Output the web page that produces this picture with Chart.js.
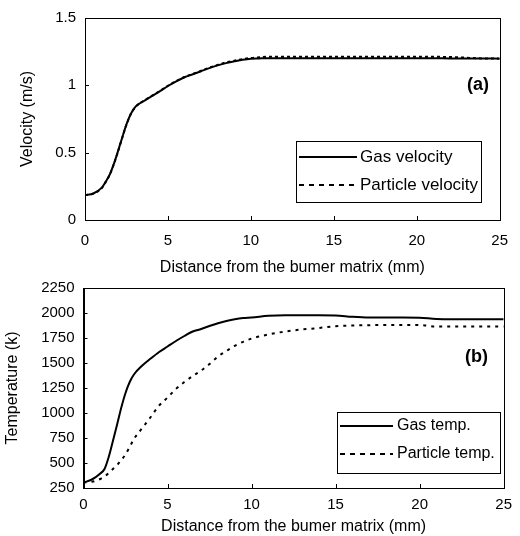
<!DOCTYPE html>
<html>
<head>
<meta charset="utf-8">
<script src="https://cdn.jsdelivr.net/npm/chart.js@4"></script>
<style>
  body { margin: 0; background: #fff; width: 520px; height: 536px; position: relative; overflow: hidden; }
  canvas { position: absolute; left: 0; }
  #velChart { top: 0; }
  #tempChart { top: 270px; }
</style>
</head>
<body>
<canvas id="velChart" width="520" height="280"></canvas>
<canvas id="tempChart" width="520" height="266"></canvas>
<script>
// velocity panel (a)
const distVel = [0, 0.5, 1, 1.25, 1.5, 1.75, 2, 2.25, 2.5, 2.75, 3, 3.25, 3.5, 4, 4.5, 5, 5.5, 6, 6.5, 7, 7.5, 8, 8.5, 9, 9.5, 10, 10.5, 11, 12, 13, 14, 15, 16, 17, 18, 19, 20, 21, 22, 23, 24, 25];
const gasVelocity = [0.185, 0.197, 0.238, 0.285, 0.34, 0.42, 0.515, 0.615, 0.71, 0.785, 0.835, 0.862, 0.88, 0.918, 0.955, 0.995, 1.03, 1.06, 1.082, 1.105, 1.128, 1.148, 1.165, 1.178, 1.19, 1.198, 1.2, 1.202, 1.202, 1.202, 1.202, 1.202, 1.202, 1.202, 1.202, 1.202, 1.202, 1.202, 1.2, 1.2, 1.2, 1.198];
const particleVelocity = [0.185, 0.196, 0.236, 0.282, 0.338, 0.418, 0.512, 0.612, 0.708, 0.783, 0.834, 0.862, 0.882, 0.92, 0.957, 0.997, 1.032, 1.062, 1.085, 1.108, 1.132, 1.152, 1.17, 1.183, 1.195, 1.203, 1.208, 1.212, 1.213, 1.213, 1.213, 1.213, 1.213, 1.213, 1.213, 1.213, 1.213, 1.212, 1.21, 1.205, 1.2, 1.2];

// temperature panel (b)
const distTemp = [0, 0.5, 1, 1.25, 1.5, 1.75, 2, 2.25, 2.5, 2.75, 3, 3.5, 4, 4.5, 5, 5.5, 6, 6.5, 7, 7.5, 8, 8.5, 9, 9.5, 10, 11, 12, 13, 14, 15, 16, 17, 18, 19, 20, 21, 22, 23, 24, 25];
const gasTemp = [305, 335, 395, 440, 560, 720, 885, 1055, 1200, 1310, 1385, 1475, 1545, 1610, 1665, 1720, 1770, 1815, 1840, 1870, 1898, 1920, 1938, 1950, 1955, 1972, 1978, 1978, 1978, 1976, 1962, 1955, 1955, 1955, 1953, 1940, 1938, 1938, 1938, 1938];
const particleTemp = [305, 312, 340, 365, 400, 440, 480, 530, 585, 660, 740, 850, 960, 1075, 1155, 1240, 1310, 1370, 1425, 1490, 1565, 1620, 1672, 1712, 1744, 1785, 1815, 1835, 1850, 1868, 1875, 1878, 1880, 1880, 1880, 1865, 1865, 1865, 1865, 1865];

const xTicks = [0, 5, 10, 15, 20, 25];
const xTitle = "Distance from the bumer matrix (mm)";

const FONT = "'Liberation Sans', Arial, sans-serif";

function points(xs, ys) {
    return xs.map((x, i) => ({ x: x, y: ys[i] }));
}

// frame, inward tick marks, boxed legend and panel letter
const framePlugin = {
    id: "frame",
    afterDraw(chart, args, opts) {
        const ctx = chart.ctx;
        const a = chart.chartArea;
        ctx.save();
        ctx.strokeStyle = "#000";
        ctx.lineWidth = 1;
        ctx.strokeRect(Math.round(a.left) + 0.5, Math.round(a.top) + 0.5, Math.round(a.right - a.left), Math.round(a.bottom - a.top));

        // inward ticks
        const xs = chart.scales.x, ys = chart.scales.y;
        ctx.beginPath();
        xs.ticks.forEach(t => {
            const px = Math.round(xs.getPixelForValue(t.value)) + 0.5;
            ctx.moveTo(px, a.bottom);
            ctx.lineTo(px, a.bottom - 4);
        });
        ys.ticks.forEach(t => {
            const py = Math.round(ys.getPixelForValue(t.value)) + 0.5;
            ctx.moveTo(a.left, py);
            ctx.lineTo(a.left + 4, py);
        });
        ctx.stroke();

        // legend
        const b = opts.box;
        ctx.fillStyle = "#fff";
        ctx.fillRect(b.x, b.y, b.w, b.h);
        ctx.strokeRect(b.x + 0.5, b.y + 0.5, b.w, b.h);
        ctx.font = opts.legendFont + "px " + FONT;
        ctx.textBaseline = "middle";
        chart.data.datasets.forEach((ds, i) => {
            const ly = opts.rows[i];
            ctx.beginPath();
            ctx.lineWidth = 2;
            ctx.setLineDash(opts.legendDash[i]);
            ctx.moveTo(b.x + 3, ly);
            ctx.lineTo(b.x + 3 + opts.sample, ly);
            ctx.stroke();
            ctx.setLineDash([]);
            ctx.fillStyle = "#000";
            ctx.fillText(ds.label, b.x + opts.textOffset, ly);
        });

        // panel letter
        ctx.font = "bold 18px " + FONT;
        ctx.textAlign = "right";
        ctx.fillText(opts.letter, opts.letterX, opts.letterY);
        ctx.restore();
    }
};

function makeChart(id, cfg) {
    return new Chart(document.getElementById(id), {
        type: "line",
        data: {
            datasets: [
                {
                    label: cfg.labels[0],
                    data: points(cfg.xs, cfg.gas),
                    borderColor: "#000",
                    borderWidth: 2,
                    pointRadius: 0,
                    cubicInterpolationMode: "monotone"
                },
                {
                    label: cfg.labels[1],
                    data: points(cfg.xs, cfg.particle),
                    borderColor: "#000",
                    borderWidth: 2,
                    borderDash: cfg.dash,
                    pointRadius: 0,
                    cubicInterpolationMode: "monotone"
                }
            ]
        },
        options: {
            responsive: false,
            animation: false,
            layout: { padding: { left: 0, right: 10, top: cfg.top, bottom: 0 } },
            plugins: {
                legend: { display: false },
                tooltip: { enabled: false },
                frame: cfg.frame
            },
            scales: {
                x: {
                    type: "linear",
                    min: 0,
                    max: 25,
                    afterBuildTicks: s => { s.ticks = xTicks.map(v => ({ value: v })); },
                    grid: { display: false, drawTicks: false },
                    border: { display: true, color: "#000" },
                    ticks: { color: "#000", padding: cfg.xTickPad, maxRotation: 0, font: { family: FONT, size: 15 } },
                    title: { display: true, text: xTitle, color: "#000", padding: { top: 0, bottom: cfg.xTitlePad }, font: { family: FONT, size: 16 } },
                    afterFit: s => { s.height = cfg.xHeight; }
                },
                y: {
                    min: cfg.yMin,
                    max: cfg.yMax,
                    ticks: {
                        stepSize: cfg.yStep, color: "#000", padding: 9, font: { family: FONT, size: 15 },
                        callback: v => String(v)
                    },
                    grid: { display: false, drawTicks: false },
                    border: { display: true, color: "#000" },
                    title: { display: true, text: cfg.yTitle, color: "#000", padding: { top: cfg.yTitlePad, bottom: 0 }, font: { family: FONT, size: 16 } },
                    afterFit: s => { s.width = cfg.yWidth; }
                }
            }
        },
        plugins: [framePlugin]
    });
}

makeChart("velChart", {
    xs: distVel,
    gas: gasVelocity,
    particle: particleVelocity,
    labels: ["Gas velocity", "Particle velocity"],
    dash: [3, 3],
    top: 16,
    xHeight: 60,
    xTickPad: 12,
    xTitlePad: 3,
    yMin: 0, yMax: 1.5, yStep: 0.5,
    yTitle: "Velocity (m/s)",
    yTitlePad: 18,
    yWidth: 85,
    frame: {
        box: { x: 296, y: 141, w: 185, h: 61 },
        rows: [157, 185],
        legendFont: 17,
        legendDash: [[], [5, 5]],
        sample: 58,
        textOffset: 64,
        letter: "(a)", letterX: 489, letterY: 85
    }
});

makeChart("tempChart", {
    xs: distTemp,
    gas: gasTemp,
    particle: particleTemp,
    labels: ["Gas temp.", "Particle temp."],
    dash: [3, 5],
    top: 17,
    xHeight: 48,
    xTickPad: 8,
    xTitlePad: 0,
    yMin: 250, yMax: 2250, yStep: 250,
    yTitle: "Temperature (k)",
    yTitlePad: 3,
    yWidth: 83.5,
    frame: {
        box: { x: 337, y: 142, w: 163, h: 61 },
        rows: [156, 184],
        legendFont: 16,
        legendDash: [[], [5, 5]],
        sample: 53,
        textOffset: 60,
        letter: "(b)", letterX: 488, letterY: 87
    }
});
</script>
</body>
</html>
